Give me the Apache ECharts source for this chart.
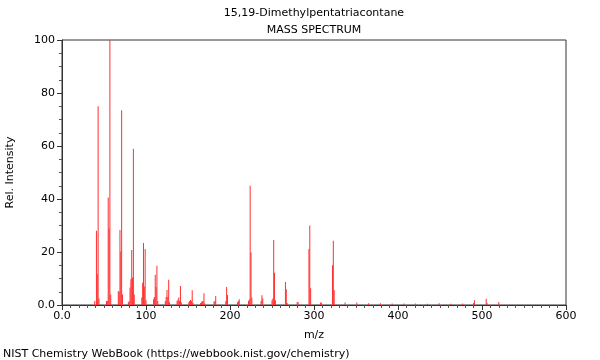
<!DOCTYPE html>
<html>
<head>
<meta charset="utf-8">
<script src="https://cdn.jsdelivr.net/npm/echarts@6/dist/echarts.min.js"></script>
<style>
html,body{margin:0;padding:0;background:#fff;}
#chart{width:600px;height:360px;}
</style>
</head>
<body>
<div id="chart"></div>
<script>
const chartTitle = '15,19-Dimethylpentatriacontane';
const chartSubtitle = 'MASS SPECTRUM';
const footerText = 'NIST Chemistry WebBook (https://webbook.nist.gov/chemistry)';
const xAxisName = 'm/z';
const yAxisName = 'Rel. Intensity';

const mzValues = [
  39, 41, 42, 43, 44, 53, 54, 55, 56, 57, 58,
  67, 68, 69, 70, 71, 72,
  79, 80, 81, 82, 83, 84, 85, 86,
  95, 96, 97, 98, 99, 100,
  109, 110, 111, 112, 113, 114,
  123, 124, 125, 126, 127, 128,
  137, 138, 139, 140, 141, 142,
  151, 152, 153, 154, 155, 156,
  165, 166, 167, 168, 169, 170,
  181, 182, 183,
  195, 196, 197,
  209, 210, 211,
  222, 223, 224, 225, 226,
  237, 238, 239,
  250, 251, 252, 253, 254,
  266, 267, 268,
  280, 281,
  294, 295, 296,
  308, 309,
  322, 323, 324,
  337, 351, 365, 379, 393, 407, 421, 435, 449, 463, 477,
  490, 491, 505, 506, 520
];
const intensities = [
  1.5, 28, 11.6, 75, 2.5, 1.5, 1.5, 40.6, 28.9, 100, 4,
  5.3, 5, 28.3, 20.2, 73.5, 4,
  1, 1.5, 6.6, 9.7, 20.8, 10.4, 59, 4,
  2.8, 8.4, 23.4, 7, 21.1, 1.8,
  2.2, 3, 11.4, 6.8, 14.8, 1.5,
  1.5, 3, 5.7, 3, 9.5, 1,
  1.5, 2, 2.8, 1.5, 7.2, 1,
  1, 1.5, 1.9, 1.5, 5.6, 0.8,
  0.8, 1, 1.5, 1.5, 4.4, 0.6,
  1.3, 1.5, 3.4,
  1.5, 6.8, 3.8,
  1, 1.5, 2.2,
  1.5, 2.2, 45, 19.8, 2.8,
  1.5, 3.7, 2.5,
  1.8, 2.5, 24.5, 12.2, 1.8,
  8.7, 5.9, 0.8,
  1.1, 1.1,
  21.1, 30, 6.3,
  1, 0.8,
  15, 24.2, 5.7,
  0.9, 0.9, 0.7, 0.7, 0.6, 0.6, 0.6, 0.5, 0.7, 0.5, 0.6,
  0.8, 1.8, 2.4, 0.8, 1.1
];

const xMin = 0, xMax = 600, xStep = 100;
const yMin = 0, yMax = 100, yStep = 20;

const peakData = mzValues.map((m, i) => [m, intensities[i]]);

const fontFam = '"DejaVu Sans", sans-serif';
const chart = echarts.init(document.getElementById('chart'), null, {renderer: 'canvas'});
const fmt0 = v => (v === 0 ? '0.0' : String(v));

chart.setOption({
  animation: false,
  backgroundColor: '#ffffff',
  textStyle: {fontFamily: fontFam},
  grid: {left: 62, right: 34, top: 40, bottom: 55, outerBoundsMode: 'none', containLabel: false,
         show: true, borderColor: '#333', borderWidth: 1, backgroundColor: 'transparent'},
  graphic: [
    {type: 'text', x: 314, y: 8, style: {text: chartTitle, font: '11px ' + fontFam, fill: '#000', textAlign: 'center'}},
    {type: 'text', x: 314, y: 25, style: {text: chartSubtitle, font: '11px ' + fontFam, fill: '#000', textAlign: 'center'}},
    {type: 'text', x: 3, y: 349, style: {text: footerText, font: '11px ' + fontFam, fill: '#000'}}
  ],
  xAxis: {
    type: 'value', min: xMin, max: xMax, interval: xStep,
    name: xAxisName, nameLocation: 'middle', nameGap: 25,
    nameTextStyle: {fontSize: 11, color: '#000', fontFamily: fontFam},
    axisLine: {show: true, lineStyle: {color: '#333', width: 1}},
    axisTick: {show: true, inside: false, length: 5, lineStyle: {color: '#333'}},
    minorTick: {show: true, splitNumber: 10, length: 3, lineStyle: {color: '#555'}},
    axisLabel: {fontSize: 11, color: '#000', margin: 6, formatter: fmt0, fontFamily: fontFam},
    splitLine: {show: false}
  },
  yAxis: {
    type: 'value', min: yMin, max: yMax, interval: yStep,
    name: yAxisName, nameLocation: 'middle', nameGap: 46, nameRotate: 90,
    nameTextStyle: {fontSize: 11, color: '#000', fontFamily: fontFam},
    axisLine: {show: true, lineStyle: {color: '#333', width: 1}},
    axisTick: {show: true, inside: false, length: 5, lineStyle: {color: '#333'}},
    minorTick: {show: true, splitNumber: 4, length: 3, lineStyle: {color: '#555'}},
    axisLabel: {fontSize: 11, color: '#000', margin: 7, formatter: fmt0, fontFamily: fontFam},
    splitLine: {show: false}
  },
  series: [{
    type: 'bar',
    data: peakData,
    barWidth: 1,
    itemStyle: {color: '#ff3030'},
    silent: true
  }]
});
</script>
</body>
</html>
